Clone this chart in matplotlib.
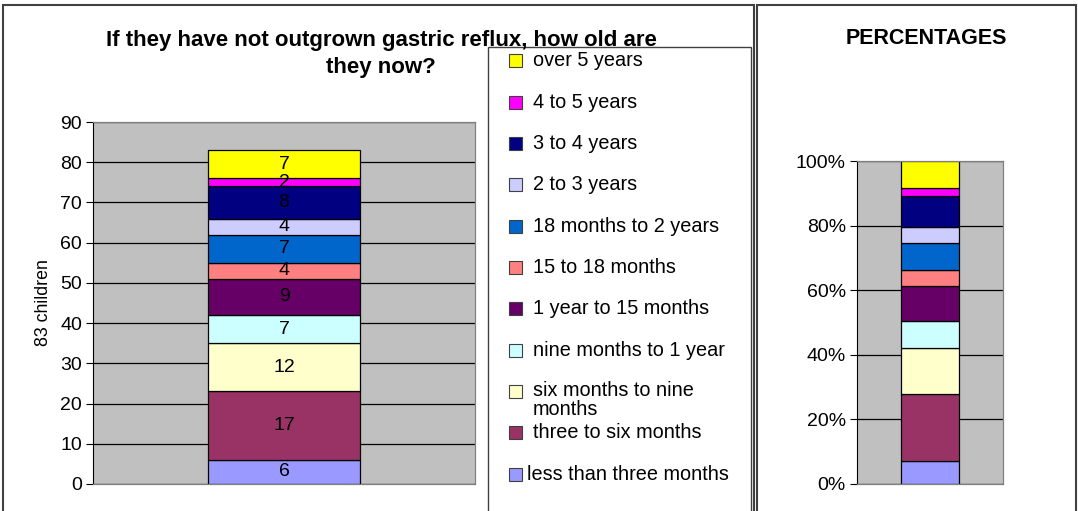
import numpy as np
import matplotlib
matplotlib.use("Agg")
import matplotlib.pyplot as plt
from matplotlib.patches import Rectangle

plt.rcParams['font.family'] = ['Liberation Sans', 'DejaVu Sans']

# age groups, bottom of the stack first
categories = ["less than three months", "three to six months",
              "six months to nine\nmonths", "nine months to 1 year",
              "1 year to 15 months", "15 to 18 months",
              "18 months to 2 years", "2 to 3 years", "3 to 4 years",
              "4 to 5 years", "over 5 years"]
counts = [6, 17, 12, 7, 9, 4, 7, 4, 8, 2, 7]
colors = ["#9999FF", "#993366", "#FFFFCC", "#CCFFFF", "#660066", "#FF8080",
          "#0066CC", "#CCCCFF", "#000080", "#FF00FF", "#FFFF00"]
count_ticks = [0, 10, 20, 30, 40, 50, 60, 70, 80, 90]
pct_ticks = [0, 20, 40, 60, 80, 100]
title_lines = ["If they have not outgrown gastric reflux, how old are",
               "they now?"]

W, H = 1078, 511
fig = plt.figure(figsize=(W / 100, H / 100), dpi=100)


def px_axes(x0, y0, x1, y1):
    # axes from pixel box (top-left origin)
    return fig.add_axes([x0 / W, 1 - y1 / H, (x1 - x0) / W, (y1 - y0) / H])


def style(ax):
    ax.set_facecolor("#C0C0C0")
    ax.set_xlim(-0.5, 0.5)
    ax.set_xticks([])
    ax.grid(axis="y", color="black", lw=0.9)
    ax.set_axisbelow(True)
    for s in ["top", "right", "bottom"]:
        ax.spines[s].set_color("#808080")
        ax.spines[s].set_linewidth(0.9)
    ax.spines["left"].set_color("black")
    ax.tick_params(axis="y", length=5, labelsize=14, direction="out", pad=3)


# frames around the two charts
fig.patches.append(Rectangle((3 / W, -0.05), 751 / W, 1 - 5 / H + 0.05,
                             transform=fig.transFigure, fill=False,
                             ec="#404040", lw=1.5))
fig.patches.append(Rectangle((757 / W, -0.05), 319 / W, 1 - 5 / H + 0.05,
                             transform=fig.transFigure, fill=False,
                             ec="#404040", lw=1.5))

# counts chart
ax = px_axes(93, 122, 475, 484)
style(ax)
bottom = 0
for v, c in zip(counts, colors):
    ax.bar(0, v, width=0.4, bottom=bottom, color=c, edgecolor="black", lw=0.9)
    ax.text(0, bottom + v / 2, str(v), ha="center", va="center", fontsize=14)
    bottom += v
ax.set_ylim(0, 90)
ax.set_yticks(count_ticks)
ax.set_ylabel("83 children", fontsize=12.8, labelpad=6)
for k, line in enumerate(title_lines):
    fig.text(381 / W, 1 - (46 + 27 * k) / H, line, ha="center",
             va="baseline", fontsize=16, fontweight="bold", zorder=5)

# percentages chart
total = sum(counts)
ax2 = px_axes(857, 161, 1003, 484)
style(ax2)
bottom = 0
for v, c in zip(counts, colors):
    p = v / total * 100
    ax2.bar(0, p, width=0.4, bottom=bottom, color=c, edgecolor="black", lw=0.9)
    bottom += p
ax2.set_ylim(0, 100)
ax2.set_yticks(pct_ticks)
ax2.set_yticklabels(["%d%%" % t for t in pct_ticks])
fig.text(926 / W, 1 - 38 / H, "PERCENTAGES", ha="center", va="center",
         fontsize=15.5, fontweight="bold")

# legend box, top entry is the last series
fig.patches.append(Rectangle((488 / W, -0.05), 263 / W, 1 - 47 / H + 0.05,
                             transform=fig.transFigure, fc="white",
                             ec="#404040", lw=1.0, zorder=3))
for i, (lab, c) in enumerate(zip(categories[::-1], colors[::-1])):
    yc = 61 + i * 41.3
    fig.patches.append(Rectangle((509 / W, 1 - (yc + 6.5) / H), 13 / W, 13 / H,
                                 transform=fig.transFigure, fc=c,
                                 ec="#404040", lw=0.8, zorder=4))
    va = "center"
    y = 1 - yc / H
    x = 533
    if "\n" in lab:
        va = "top"
        y = 1 - (yc - 10) / H
    if lab.startswith("less"):
        x = 527
    fig.text(x / W, y, lab, ha="left", va=va, fontsize=14.3,
             linespacing=0.95, zorder=6)

fig.savefig("out.png", dpi=100)
